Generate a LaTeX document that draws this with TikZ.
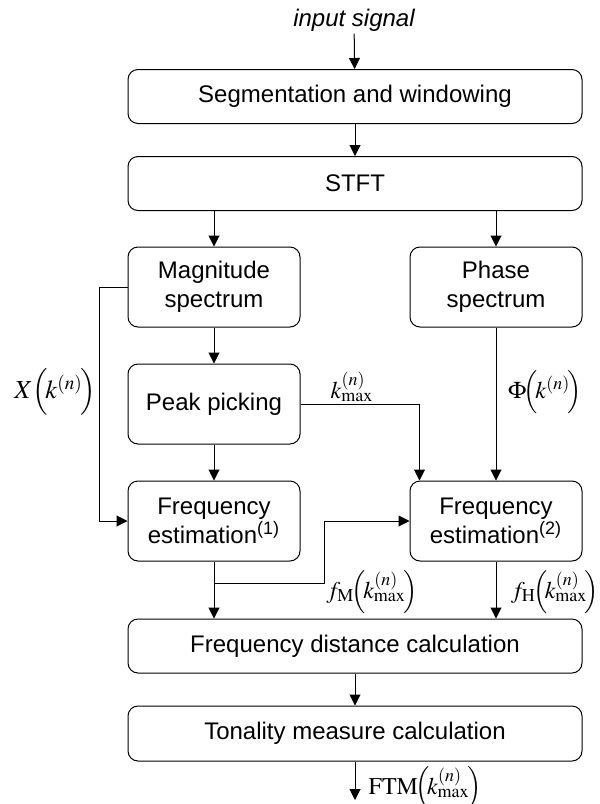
\documentclass[tikz,border=0pt]{standalone}
\usepackage{mathptmx}
\usepackage[no-math]{fontspec}
\setmainfont{Liberation Sans}
\usetikzlibrary{arrows.meta,positioning}
\newcommand{\kmx}{k_{\mathrm{max}}^{(n)}}

\begin{document}
\begin{tikzpicture}[x=0.5pt,y=-0.5pt,line width=0.5pt]
\tikzstyle{block}=[draw,rounded corners=5pt,align=center,inner sep=0pt,font=\fontsize{12}{14.5}\selectfont]
\tikzstyle{wide}=[block,minimum width=227pt,minimum height=27pt]
\tikzstyle{half}=[block,minimum width=86pt,minimum height=40pt]
\tikzstyle{arr}=[-{Triangle[length=5.5pt,width=5.5pt]}]
\tikzstyle{lbl}=[inner sep=0pt,font=\fontsize{12}{14}\selectfont]
\useasboundingbox (0,0) rectangle (600,804);
\node[inner sep=1pt,font=\fontsize{12}{14.5}\selectfont\itshape] (input) at (354,20) {input signal};
\node[wide] (seg) at (355,96.5) {Segmentation and windowing};
\node[wide] (stft) at (355,183.5) {STFT};
\node[half] (mag) at (214,287) {Magnitude\\spectrum};
\node[half] (phase) at (496,287) {Phase\\spectrum};
\node[half] (peak) at (214,404) {Peak picking};
\node[half] (fe1) at (214,521) {Frequency\\estimation\textsuperscript{(1)}};
\node[half] (fe2) at (496,521) {Frequency\\estimation\textsuperscript{(2)}};
\node[wide] (fdist) at (355,646) {Frequency distance calculation};
\node[wide,minimum height=27.5pt] (tonal) at (355,733.5) {Tonality measure calculation};
\coordinate (fmtap) at (214,583);
\coordinate (out) at (355,800);
% labels
\node[lbl,font=\fontsize{13}{15}\selectfont] (xlbl) at (55,392) {$X\Bigl(\!k^{(n)}\!\Bigr)$};
\node[lbl] (klbl) at (352,387) {$\kmx$};
\node[lbl] (philbl) at (545,392) {$\Phi\!\Bigl(\!k^{(n)}\!\Bigr)$};
\node[lbl] (fmlbl) at (372,592) {$f_{\mathrm{M}}\!\Bigl(\!\kmx\!\Bigr)$};
\node[lbl] (fhlbl) at (555,592) {$f_{\mathrm{H}}\!\Bigl(\!\kmx\!\Bigr)$};
\node[lbl] (ftmlbl) at (425,788) {$\mathrm{FTM}\!\Bigl(\!\kmx\!\Bigr)$};
% connectors
\draw[arr] (input) -- (seg);
\draw[arr] (seg) -- (stft);
\draw[arr] (mag.north |- stft.south) -- (mag);
\draw[arr] (phase.north |- stft.south) -- (phase);
\draw[arr] (mag) -- (peak);
\draw[arr] (peak) -- (fe1);
\draw[arr] (mag.west) -- ++(-28,0) |- (fe1.west);
\draw[arr] (peak.east) -| ([xshift=5pt]fe2.north west);
\draw[arr] (phase) -- (fe2);
\draw[arr] (fe1.south) -- (fe1.south |- fdist.north);
\draw[arr] (fmtap) -- ++(110,0) |- (fe2.west);
\draw[arr] (fe2.south) -- (fe2.south |- fdist.north);
\draw[arr] (fdist) -- (tonal);
\draw[arr] (tonal) -- (out);
\end{tikzpicture}
\end{document}
